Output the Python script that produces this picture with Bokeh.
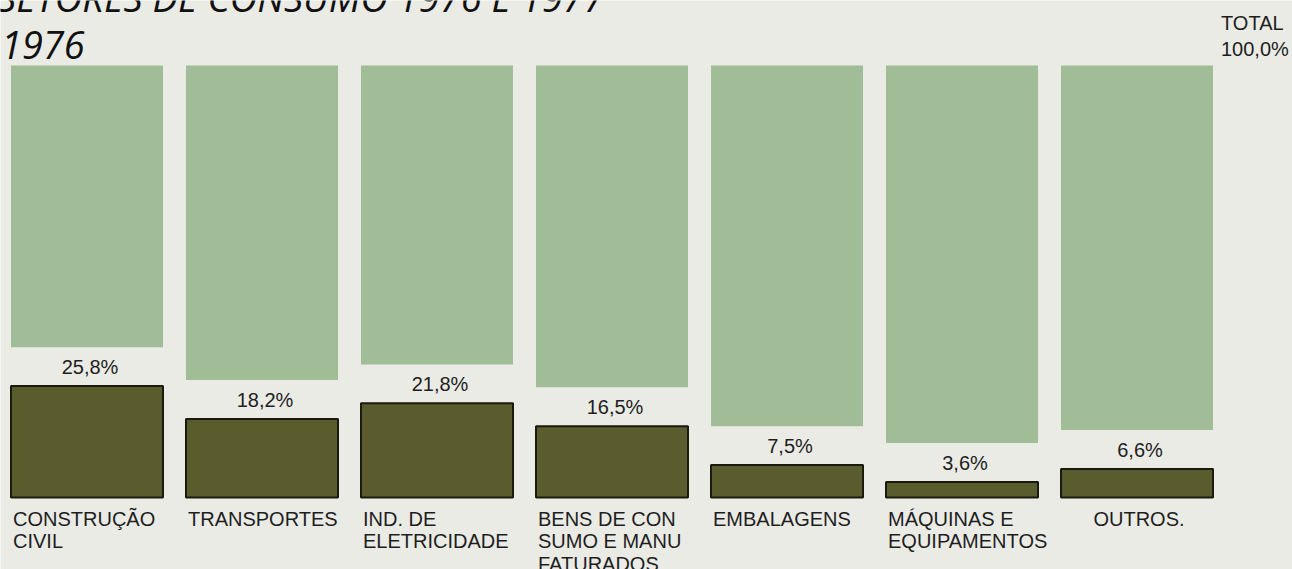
from bokeh.plotting import figure
from bokeh.models import Range1d, ColumnDataSource
from bokeh.core.properties import value
from bokeh.embed import file_html
from bokeh.resources import INLINE

# ---- data ----
categories = ["CONSTRUÇÃO\nCIVIL", "TRANSPORTES", "IND. DE\nELETRICIDADE",
              "BENS DE CON\nSUMO E MANU\nFATURADOS", "EMBALAGENS",
              "MÁQUINAS E\nEQUIPAMENTOS", "OUTROS."]
shares = [25.8, 18.2, 21.8, 16.5, 7.5, 3.6, 6.6]
value_labels = ["25,8%", "18,2%", "21,8%", "16,5%", "7,5%", "3,6%", "6,6%"]
total = 100.0
total_title = "TOTAL"
total_label = "100,0%"
title_text = "SETORES DE CONSUMO 1976 E 1977"
year_text = "1976"

# ---- layout / style ----
W, H = 1292, 569
PITCH = 175.0          # px per category
X0 = -86.5 / PITCH     # x_range start
PXU = 4.32             # px per percentage unit
Y0 = -(H - 497) / PXU
Y1 = Y0 + H / PXU
GAP = 9.0              # space (in % units) between dark bar and light bar
BAR_W = 152 / PITCH

BG = "#ebebe6"
LIGHT = "#a1bd98"
DARK = "#5a5c2d"
TXT = "#1e1e1e"
FONT = "Liberation Sans"

idx = list(range(len(categories)))
aligns = ["left"] * (len(categories) - 1) + ["center"]
src = ColumnDataSource(dict(
    x=idx,
    share=shares,
    light_bottom=[s + GAP for s in shares],
    light_top=[total] * len(shares),
    vlabel=value_labels,
    cat=categories,
    cat_x=[i - BAR_W / 2 if a == "left" else i for i, a in zip(idx, aligns)],
    cat_align=aligns,
))

p = figure(width=W, height=H, output_backend="svg", toolbar_location=None,
           x_range=Range1d(X0, X0 + W / PITCH), y_range=Range1d(Y0, Y1),
           min_border=0, min_border_left=0, min_border_right=0,
           min_border_top=0, min_border_bottom=0)
p.axis.visible = False
p.grid.visible = False
p.outline_line_color = None
p.background_fill_color = BG
p.border_fill_color = BG

# remainder (light) bars
p.vbar(x="x", bottom="light_bottom", top="light_top", width=BAR_W, source=src,
       fill_color=LIGHT, line_color=None)
# share (dark) bars
p.vbar(x="x", bottom=0, top="share", width=BAR_W, source=src,
       fill_color=DARK, line_color="#1a1a0e", line_width=2)

# value labels above dark bars
p.text(x="x", y="share", text="vlabel", source=src, text_align="center",
       text_baseline="alphabetic", y_offset=-19, x_offset=3,
       text_font=value(FONT), text_font_size="20px", text_color=TXT)

# category labels
p.text(x="cat_x", y=0, text="cat", source=src, text_align="cat_align",
       text_baseline="top", y_offset=10, x_offset=2,
       text_font=value(FONT), text_font_size="20px", text_color=TXT,
       text_line_height=1.03)

# total label
p.text(x=[idx[-1] + BAR_W / 2] * 2, y=[total] * 2,
       text=[total_title, total_label], y_offset=[-43, -17],
       text_align="left", text_baseline="alphabetic", x_offset=8,
       text_font=value(FONT), text_font_size="20px", text_color=TXT)

# title (cut off at the top, as in the print) and year
p.text(x=[X0 + 0.003], y=[Y1 - 1 / PXU], text=[title_text],
       text_align="left", text_baseline="alphabetic", x_offset=-4, y_offset=-5,
       text_font=value("Open Sans"), text_font_style="italic",
       text_font_size="38px", text_color="#111111")
p.text(x=[X0 + 0.003], y=[Y1 - 44 / PXU], text=[year_text],
       text_align="left", text_baseline="alphabetic",
       text_font=value("Open Sans"), text_font_style="italic",
       text_font_size="38px", text_color="#111111")

open("out.html", "w").write(file_html(p, INLINE))
